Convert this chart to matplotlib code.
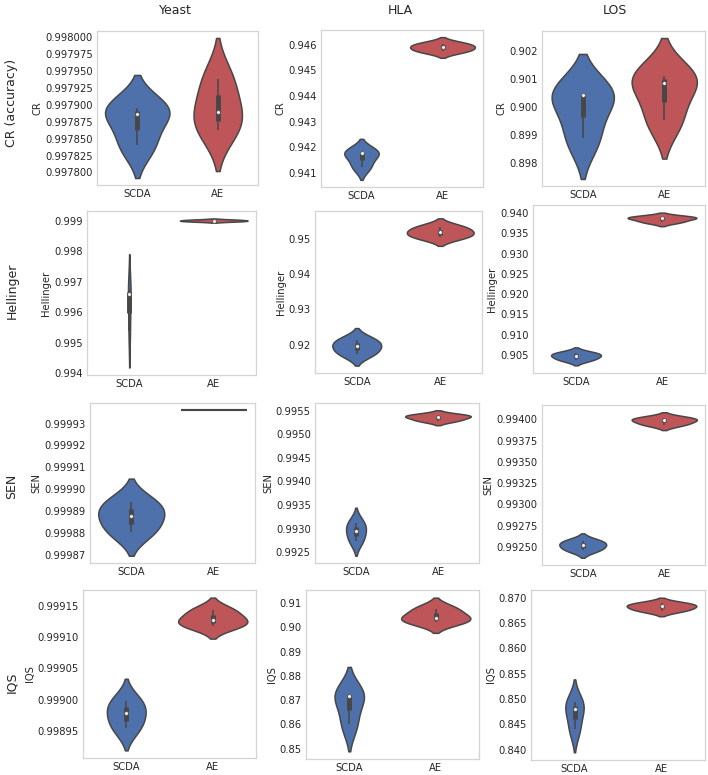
import numpy as np
import matplotlib
matplotlib.use("Agg")
import matplotlib.pyplot as plt

# three runs per method (min, median, max)
datasets = ["Yeast", "HLA", "LOS"]
metrics = ["CR (accuracy)", "Hellinger", "SEN", "IQS"]
short_names = ["CR", "Hellinger", "SEN", "IQS"]
methods = ["SCDA", "AE"]

yeast_cr_scda = [0.997840, 0.997887, 0.997896]
yeast_cr_ae = [0.997863, 0.997890, 0.997938]
hla_cr_scda = [0.94123, 0.94175, 0.94181]
hla_cr_ae = [0.94574, 0.94590, 0.94605]
los_cr_scda = [0.89887, 0.90042, 0.90045]
los_cr_ae = [0.89952, 0.90087, 0.90110]

yeast_hel_scda = [0.99538, 0.99660, 0.99672]
yeast_hel_ae = [0.998985, 0.999010, 0.999038]
hla_hel_scda = [0.91730, 0.91950, 0.92140]
hla_hel_ae = [0.95050, 0.95190, 0.95350]
los_hel_scda = [0.90380, 0.90480, 0.90550]
los_hel_ae = [0.93785, 0.93880, 0.93910]

yeast_sen_scda = [0.9998805, 0.9998880, 0.9998940]
yeast_sen_ae = [0.99993608, 0.99993608, 0.99993608]
hla_sen_scda = [0.99274, 0.99296, 0.99313]
hla_sen_ae = [0.99529, 0.99537, 0.99541]
los_sen_scda = [0.99246, 0.99252, 0.99257]
los_sen_ae = [0.99394, 0.99399, 0.99402]

yeast_iqs_scda = [0.998954, 0.998978, 0.998998]
yeast_iqs_ae = [0.999118, 0.999127, 0.999143]
hla_iqs_scda = [0.8600, 0.8715, 0.8725]
hla_iqs_ae = [0.9022, 0.9040, 0.9077]
los_iqs_scda = [0.8440, 0.8480, 0.8494]
los_iqs_ae = [0.8675, 0.8683, 0.8689]

# y tick values shown on each panel
yeast_cr_ticks = [0.997800, 0.997825, 0.997850, 0.997875, 0.997900, 0.997925, 0.997950, 0.997975, 0.998000]
hla_cr_ticks = [0.941, 0.942, 0.943, 0.944, 0.945, 0.946]
los_cr_ticks = [0.898, 0.899, 0.900, 0.901, 0.902]
yeast_hel_ticks = [0.994, 0.995, 0.996, 0.997, 0.998, 0.999]
hla_hel_ticks = [0.92, 0.93, 0.94, 0.95]
los_hel_ticks = [0.905, 0.910, 0.915, 0.920, 0.925, 0.930, 0.935, 0.940]
yeast_sen_ticks = [0.99987, 0.99988, 0.99989, 0.99990, 0.99991, 0.99992, 0.99993]
hla_sen_ticks = [0.9925, 0.9930, 0.9935, 0.9940, 0.9945, 0.9950, 0.9955]
los_sen_ticks = [0.99250, 0.99275, 0.99300, 0.99325, 0.99350, 0.99375, 0.99400]
yeast_iqs_ticks = [0.99895, 0.99900, 0.99905, 0.99910, 0.99915]
hla_iqs_ticks = [0.85, 0.86, 0.87, 0.88, 0.89, 0.90, 0.91]
los_iqs_ticks = [0.840, 0.845, 0.850, 0.855, 0.860, 0.865, 0.870]

# grid built from the lists above: (scda, ae, ticks, decimals)
grid = [
    [(yeast_cr_scda, yeast_cr_ae, yeast_cr_ticks, 6),
     (hla_cr_scda, hla_cr_ae, hla_cr_ticks, 3),
     (los_cr_scda, los_cr_ae, los_cr_ticks, 3)],
    [(yeast_hel_scda, yeast_hel_ae, yeast_hel_ticks, 3),
     (hla_hel_scda, hla_hel_ae, hla_hel_ticks, 2),
     (los_hel_scda, los_hel_ae, los_hel_ticks, 3)],
    [(yeast_sen_scda, yeast_sen_ae, yeast_sen_ticks, 5),
     (hla_sen_scda, hla_sen_ae, hla_sen_ticks, 4),
     (los_sen_scda, los_sen_ae, los_sen_ticks, 5)],
    [(yeast_iqs_scda, yeast_iqs_ae, yeast_iqs_ticks, 5),
     (hla_iqs_scda, hla_iqs_ae, hla_iqs_ticks, 2),
     (los_iqs_scda, los_iqs_ae, los_iqs_ticks, 3)],
]

# panel boxes in pixels: left, top, right, bottom
boxes = [
    [(97, 31, 258, 185), (321, 30, 483, 187), (542, 31, 705, 186)],
    [(87, 211, 256, 375), (315, 211, 482, 373), (533, 205, 705, 373)],
    [(90, 403, 255, 563), (315, 403, 479, 563), (542, 405, 705, 565)],
    [(83, 590, 256, 758), (306, 590, 479, 759), (531, 590, 705, 760)],
]

W, H = 708, 775
colors = ["#4E70AB", "#BD5559"]
gray = "#474747"
text_color = "#262626"


def kde(vals, cut=2, gridsize=100):
    # gaussian kde with scott bandwidth, cut at 2 bandwidths like seaborn
    vals = np.asarray(vals, dtype=float)
    if np.ptp(vals) == 0:
        return None, None
    bw = len(vals) ** (-1. / 5) * vals.std(ddof=1)
    support = np.linspace(vals.min() - cut * bw, vals.max() + cut * bw, gridsize)
    z = (support[:, None] - vals[None, :]) / bw
    dens = np.exp(-0.5 * z ** 2).sum(axis=1) / (len(vals) * bw * np.sqrt(2 * np.pi))
    return support, dens


def violins(ax, groups, width=0.8, lw=1.1):
    curves = [kde(g) for g in groups]
    # area scaling: widest density in the panel gets the full width
    peak = max(d.max() for s, d in curves if d is not None)
    for i, g in enumerate(groups):
        s, d = curves[i]
        g = np.asarray(g, dtype=float)
        if d is None:
            ax.plot([i - width / 2, i + width / 2], [g[0], g[0]], color=gray, lw=lw * 1.4,
                    solid_capstyle="butt")
            continue
        half = d / peak * width / 2
        ax.fill_betweenx(s, i - half, i + half, facecolor=colors[i], edgecolor=gray, lw=lw)
        q25, q50, q75 = np.percentile(g, [25, 50, 75])
        lim = 1.5 * (q75 - q25)
        lo = g[g >= q25 - lim].min()
        hi = g[g <= q75 + lim].max()
        ax.plot([i, i], [lo, hi], color=gray, lw=lw, solid_capstyle="butt")
        ax.plot([i, i], [q25, q75], color=gray, lw=lw * 3.2, solid_capstyle="butt")
        ax.scatter([i], [q50], s=np.square(lw * 2.4), color="white", edgecolor=gray,
                   lw=0.4, zorder=3)


fig = plt.figure(figsize=(W / 100, H / 100), dpi=100)

for r in range(4):
    for c in range(3):
        scda, ae, ticks, dec = grid[r][c]
        x0, y0, x1, y1 = boxes[r][c]
        ax = fig.add_axes([x0 / W, 1 - y1 / H, (x1 - x0) / W, (y1 - y0) / H])
        violins(ax, [scda, ae])
        ax.set_xlim(-0.5, 1.5)
        ylim = ax.get_ylim()
        ax.set_yticks(ticks)
        ax.set_yticklabels(["{:.{}f}".format(t, dec) for t in ticks])
        ax.set_ylim(ylim)
        ax.set_xticks([0, 1])
        ax.set_xticklabels(methods)
        ax.set_ylabel(short_names[r], fontsize=7.2, color=text_color, labelpad=2)
        ax.tick_params(length=0, labelsize=7.2, colors=text_color, pad=3)
        for sp in ax.spines.values():
            sp.set_color("#d4d4d4")
            sp.set_linewidth(0.9)

title_x = [175, 400, 615]
for name, x in zip(datasets, title_x):
    fig.text(x / W, 1 - 10 / H, name, ha="center", va="center", fontsize=9, color=text_color)

row_y = [103, 291, 486, 682]
for name, y in zip(metrics, row_y):
    fig.text(12 / W, 1 - y / H, name, ha="center", va="center", rotation=90,
             fontsize=9, color=text_color)

fig.savefig("out.png", dpi=100)
